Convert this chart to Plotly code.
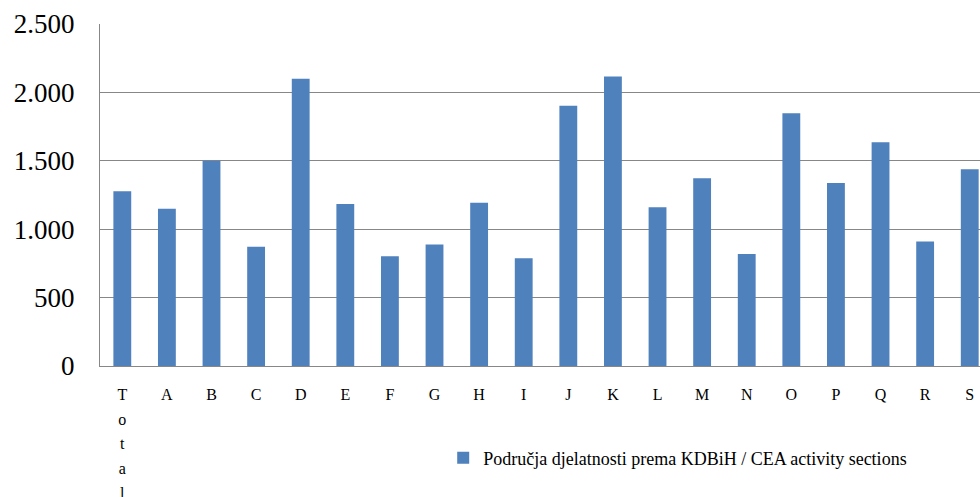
import plotly.graph_objects as go

categories = ["Total", "A", "B", "C", "D", "E", "F", "G", "H", "I", "J",
              "K", "L", "M", "N", "O", "P", "Q", "R", "S"]
values = [1277, 1150, 1501, 872, 2100, 1184, 802, 889, 1194, 787, 1903,
          2117, 1160, 1372, 819, 1847, 1338, 1635, 911, 1438]
tick_labels = ["T<br>o<br>t<br>a<br>l"] + categories[1:]
series_name = "Područja djelatnosti prema KDBiH / CEA activity sections"
y_ticks = [0, 500, 1000, 1500, 2000, 2500]

SERIF = "Liberation Serif"

fig = go.Figure()
fig.add_trace(go.Bar(
    x=categories,
    y=values,
    name=series_name,
    marker=dict(color="#4F81BD", line=dict(width=0)),
    showlegend=True,
))

fig.update_layout(
    width=980,
    height=497,
    margin=dict(l=100, r=0, t=24, b=131, autoexpand=False),
    paper_bgcolor="white",
    plot_bgcolor="white",
    bargap=0.6,
    separators=",.",
    font=dict(family=SERIF, color="black"),
    showlegend=True,
    legend=dict(
        orientation="h",
        x=0.39,
        xanchor="left",
        y=-0.215,
        yanchor="top",
        font=dict(family=SERIF, size=18, color="black"),
        bgcolor="rgba(0,0,0,0)",
        itemwidth=30,
    ),
)

fig.update_xaxes(
    type="category",
    range=[-0.5, 19.23],
    tickmode="array",
    tickvals=categories,
    ticktext=["<span style='font-size:16px'>%s</span>" % t for t in tick_labels],
    tickfont=dict(family=SERIF, size=19, color="black"),
    showline=True,
    linecolor="#878787",
    linewidth=1,
    ticks="",
    showgrid=False,
    automargin=False,
    ticklabelstandoff=10,
)

fig.update_yaxes(
    range=[0, 2500],
    tickmode="array",
    tickvals=y_ticks,
    tickformat=",",
    tickfont=dict(family=SERIF, size=27, color="black"),
    showline=True,
    linecolor="#878787",
    linewidth=1,
    showgrid=True,
    gridcolor="#878787",
    gridwidth=1,
    zeroline=False,
    ticks="",
    automargin=False,
    ticklabelstandoff=19,
)

fig.write_html(
    "out.html",
    config={"displayModeBar": False},
    post_script="document.body.style.margin='0';document.body.style.overflow='hidden';",
)
